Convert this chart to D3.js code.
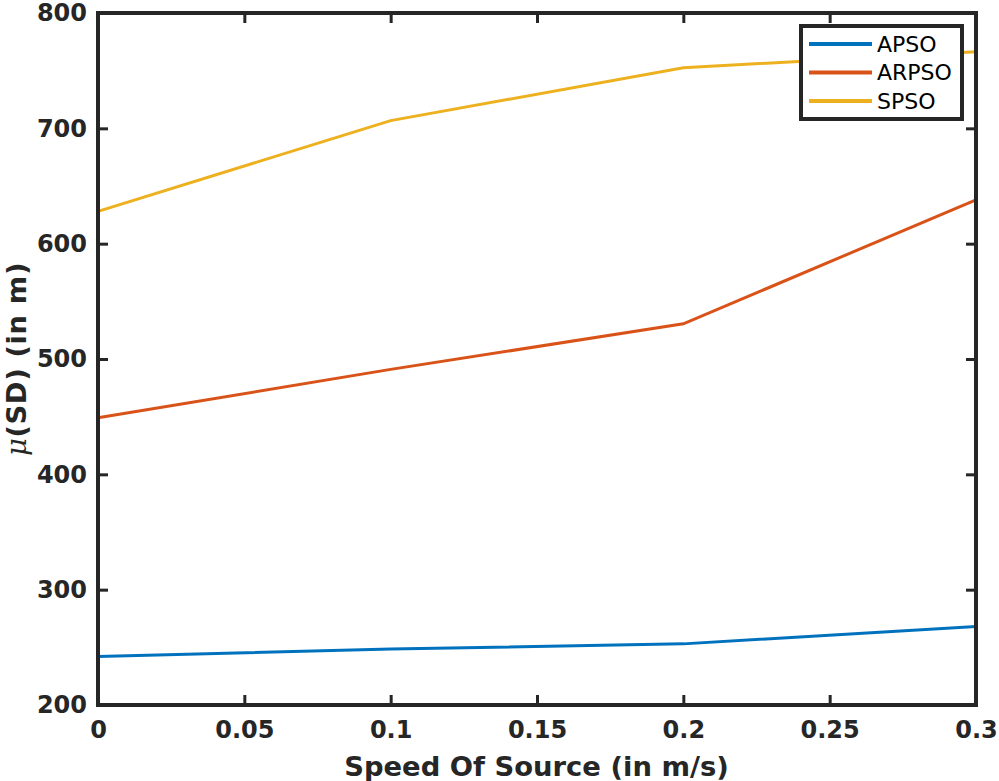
<!DOCTYPE html>
<html><head><meta charset="utf-8">
<script src="https://cdn.jsdelivr.net/npm/d3@7"></script>
<style>body{margin:0;background:#fff}svg{display:block}</style>
</head><body>
<svg id="c" width="999" height="781"></svg>
<script>
const speeds = [0, 0.1, 0.2, 0.3];
const apso  = [242, 248.5, 253, 268];
const arpso = [449, 491, 530.5, 638];
const spso  = [628, 706.7, 752.5, 766.5];
const seriesNames = ["APSO", "ARPSO", "SPSO"];
const seriesColors = ["#0072BD", "#D95319", "#EDB120"];
const xTicks = [0, 0.05, 0.1, 0.15, 0.2, 0.25, 0.3];
const xTickLabels = ["0", "0.05", "0.1", "0.15", "0.2", "0.25", "0.3"];
const yTicks = [200, 300, 400, 500, 600, 700, 800];

const svg = d3.select("#c");
const L = 98, R = 976, T = 13, B = 705;
const x = d3.scaleLinear().domain([0, 0.3]).range([L, R]);
const y = d3.scaleLinear().domain([200, 800]).range([B, T]);
const ax = "#262626";
const font = "'DejaVu Sans', sans-serif";

const series = [apso, arpso, spso];
const line = d3.line().x((d, i) => x(speeds[i])).y(d => y(d));
const g = svg.append("g");
series.forEach((s, k) => {
  g.append("path").datum(s).attr("d", line).attr("fill", "none")
    .attr("stroke", seriesColors[k]).attr("stroke-width", 3);
});

// axes with inward ticks
const xb = svg.append("g").attr("transform", `translate(0,${B})`)
  .call(d3.axisBottom(x).tickValues(xTicks).tickFormat((d, i) => xTickLabels[i]).tickSize(-10).tickPadding(16));
const xt = svg.append("g").attr("transform", `translate(0,${T})`)
  .call(d3.axisTop(x).tickValues(xTicks).tickFormat("").tickSize(-10));
const yl = svg.append("g").attr("transform", `translate(${L},0)`)
  .call(d3.axisLeft(y).tickValues(yTicks).tickSize(-10).tickPadding(11));
const yr = svg.append("g").attr("transform", `translate(${R},0)`)
  .call(d3.axisRight(y).tickValues(yTicks).tickFormat("").tickSize(-10));
[xb, xt, yl, yr].forEach(a => {
  a.select(".domain").remove();
  a.selectAll("line").attr("stroke", ax).attr("stroke-width", 3);
  a.selectAll("text").attr("fill", ax).style("font-family", font)
    .style("font-weight", "bold").style("font-size", "24px");
});
svg.append("rect").attr("x", L).attr("y", T).attr("width", R - L).attr("height", B - T)
  .attr("fill", "none").attr("stroke", ax).attr("stroke-width", 4);

// labels
svg.append("text").attr("x", (L + R) / 2 - 0.5).attr("y", 776).attr("text-anchor", "middle")
  .attr("fill", ax).style("font-family", font).style("font-weight", "bold").style("font-size", "27.4px")
  .text("Speed Of Source (in m/s)");
const yt = svg.append("text").attr("transform", `translate(26,${(T + B) / 2}) rotate(-90)`)
  .attr("text-anchor", "middle").attr("fill", ax).style("font-family", font)
  .style("font-weight", "bold").style("font-size", "27.4px").style("letter-spacing", "0.6px");
yt.append("tspan").style("font-style", "italic").style("font-weight", "normal")
  .style("font-family", "'DejaVu Serif', serif").text("μ");
yt.append("tspan").text("(SD) (in m)");

// legend
const lg = svg.append("g");
lg.append("rect").attr("x", 801).attr("y", 26).attr("width", 161).attr("height", 93)
  .attr("fill", "#fff").attr("stroke", ax).attr("stroke-width", 4);
seriesNames.forEach((n, k) => {
  const yy = 44 + k * 28.5;
  lg.append("line").attr("x1", 809).attr("x2", 872).attr("y1", yy).attr("y2", yy)
    .attr("stroke", seriesColors[k]).attr("stroke-width", 4);
  lg.append("text").attr("x", 877).attr("y", yy).attr("dy", "0.36em").attr("fill", "#000")
    .style("font-family", font).style("font-size", "22px").text(n);
});
</script>
</body></html>
